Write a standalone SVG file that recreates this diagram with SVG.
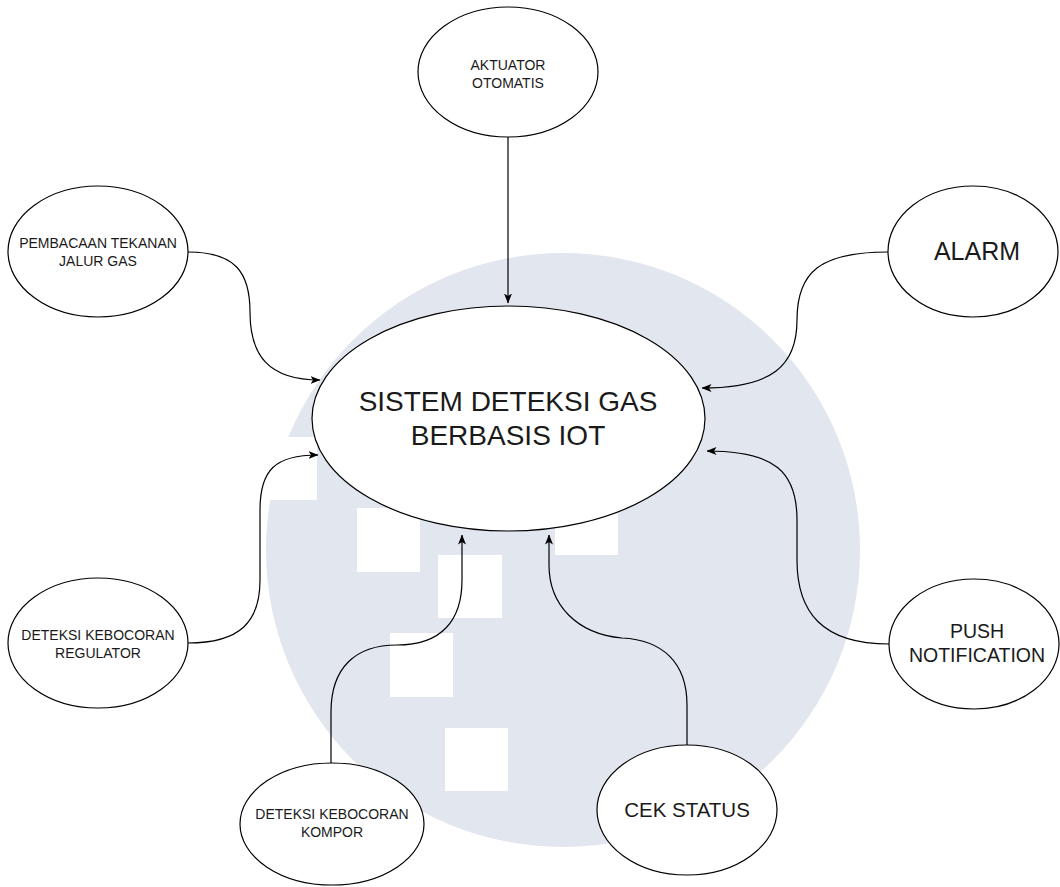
<svg xmlns="http://www.w3.org/2000/svg" width="1060" height="887" viewBox="0 0 1060 887">
  <style>
    .node { fill: #ffffff; stroke: #000000; stroke-width: 1.2; }
    .edge { fill: none; stroke: #000000; stroke-width: 1.2; marker-end: url(#arrow); }
    .lbl { font-family: "Liberation Sans", Arial, Helvetica, sans-serif; fill: #1a1a1a; text-anchor: middle; }
    .s14 { font-size: 14px; }
    .wm { fill: #e2e6ef; }
    .wsq { fill: #ffffff; }
  </style>
  <defs>
    <marker id="arrow" viewBox="0 0 10 8" refX="9.5" refY="4" markerWidth="10" markerHeight="8" markerUnits="userSpaceOnUse" orient="auto">
      <path d="M0,0 L10,4 L0,8 L2.5,4 Z" fill="#000000"/>
    </marker>
  </defs>
  <rect width="1060" height="887" fill="#ffffff"/>
  <g id="watermark">
    <circle class="wm" cx="563" cy="550" r="297"/>
    <rect class="wsq" x="262" y="437" width="55" height="63"/>
    <rect class="wsq" x="357" y="508" width="63" height="64"/>
    <rect class="wsq" x="438" y="555" width="64" height="63"/>
    <rect class="wsq" x="390" y="633" width="63" height="64"/>
    <rect class="wsq" x="445" y="728" width="63" height="63"/>
    <rect class="wsq" x="555" y="492" width="63" height="63"/>
  </g>
  <g id="connectors">
    <path class="edge" d="M508,137 L508,303"/>
    <path class="edge" d="M188,252 C235,252 250,272 250,312 C250,355 268,380 320,380"/>
    <path class="edge" d="M888,252 C820,252 797,272 797,320 C797,366 772,388 702,388"/>
    <path class="edge" d="M188,643 C240,643 260,622 260,580 L260,510 C260,470 275,455 318,455"/>
    <path class="edge" d="M889,644 C822,644 797,612 797,560 L797,520 C797,472 775,451 707,451"/>
    <path class="edge" d="M331,763 L331,712 C331,668 355,645 397,645 C442,645 462,620 462,580 L462,535"/>
    <path class="edge" d="M687,745 L687,705 C687,662 662,640 622,638 C577,634 549,605 549,565 L549,535"/>
  </g>
  <g id="central">
    <ellipse class="node" cx="508.5" cy="418.5" rx="196.5" ry="112.5"/>
    <text class="lbl" x="508" y="411" font-size="28">SISTEM DETEKSI GAS</text>
    <text class="lbl" x="508" y="445" font-size="28">BERBASIS IOT</text>
  </g>
  <g id="aktuator">
    <ellipse class="node" cx="508" cy="72" rx="90" ry="65"/>
    <text class="lbl s14" x="508" y="70">AKTUATOR</text>
    <text class="lbl s14" x="508" y="88">OTOMATIS</text>
  </g>
  <g id="pembacaan">
    <ellipse class="node" cx="98" cy="251.5" rx="90" ry="65.5"/>
    <text class="lbl s14" x="98" y="248">PEMBACAAN TEKANAN</text>
    <text class="lbl s14" x="98" y="266">JALUR GAS</text>
  </g>
  <g id="alarm">
    <ellipse class="node" cx="973" cy="251.5" rx="85" ry="65.5"/>
    <text class="lbl" x="977" y="260" font-size="25">ALARM</text>
  </g>
  <g id="regulator">
    <ellipse class="node" cx="98" cy="643" rx="90" ry="65"/>
    <text class="lbl s14" x="98" y="640">DETEKSI KEBOCORAN</text>
    <text class="lbl s14" x="98" y="658">REGULATOR</text>
  </g>
  <g id="push">
    <ellipse class="node" cx="974" cy="644" rx="85" ry="65"/>
    <text class="lbl" x="977" y="638" font-size="19.5">PUSH</text>
    <text class="lbl" x="977" y="662" font-size="19.5">NOTIFICATION</text>
  </g>
  <g id="kompor">
    <ellipse class="node" cx="332" cy="824" rx="92" ry="61"/>
    <text class="lbl s14" x="332" y="819">DETEKSI KEBOCORAN</text>
    <text class="lbl s14" x="332" y="837">KOMPOR</text>
  </g>
  <g id="cekstatus">
    <ellipse class="node" cx="687" cy="810" rx="90" ry="65"/>
    <text class="lbl" x="687" y="817" font-size="20.5">CEK STATUS</text>
  </g>
</svg>
